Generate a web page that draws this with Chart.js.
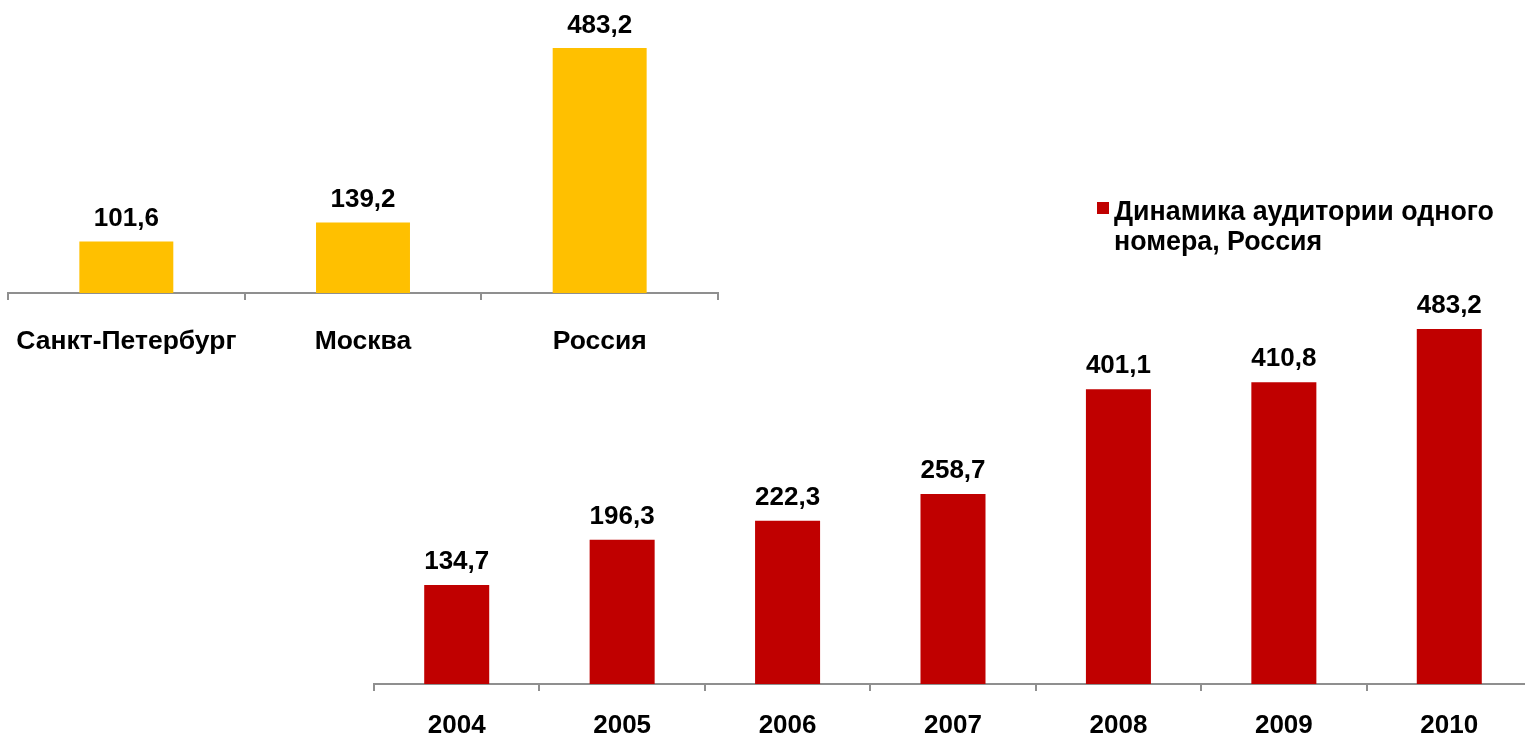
<!DOCTYPE html>
<html>
<head>
<meta charset="utf-8">
<script src="https://cdn.jsdelivr.net/npm/chart.js@4.4.1/dist/chart.umd.min.js"></script>
<style>
  html, body { margin: 0; padding: 0; background: #ffffff; overflow: hidden; width: 1525px; height: 738px; }
  #wrapTop { position: absolute; left: 0; top: 0; width: 740px; height: 380px; }
  #wrapBottom { position: absolute; left: 360px; top: 0; width: 1200px; height: 738px; }
</style>
</head>
<body>
<div id="wrapTop"><canvas id="cTop"></canvas></div>
<div id="wrapBottom"><canvas id="cBottom"></canvas></div>
<script>
// ---- data ----
const regionCategories = ['Санкт-Петербург', 'Москва', 'Россия'];
const regionValues = [101.6, 139.2, 483.2];
const years = ['2004', '2005', '2006', '2007', '2008', '2009', '2010'];
const audienceValues = [134.7, 196.3, 222.3, 258.7, 401.1, 410.8, 483.2];
const legendLines = ['Динамика аудитории одного', 'номера, Россия'];

const FONT = '"Liberation Sans", Arial, sans-serif';
const AXIS_COLOR = '#8f8f8f';
const YELLOW = '#FFC000';
const RED = '#C00000';

const valueLabels = {
  id: 'valueLabels',
  afterDatasetsDraw(chart, args, opts) {
    const ctx = chart.ctx;
    ctx.save();
    ctx.font = 'bold ' + opts.size + 'px ' + FONT;
    ctx.fillStyle = '#000';
    ctx.textAlign = 'center';
    ctx.textBaseline = 'alphabetic';
    chart.getDatasetMeta(0).data.forEach((bar, i) => {
      const v = chart.data.datasets[0].data[i];
      ctx.fillText(v.toFixed(1).replace('.', ','), bar.x, bar.y - opts.gap);
    });
    ctx.restore();
  }
};

const customLegend = {
  id: 'customLegend',
  afterDraw(chart, args, opts) {
    if (!opts.show) return;
    const ctx = chart.ctx;
    ctx.save();
    ctx.fillStyle = RED;
    ctx.fillRect(opts.x, opts.y, 12, 12);
    ctx.fillStyle = '#000';
    ctx.font = 'bold ' + opts.size + 'px ' + FONT;
    ctx.textAlign = 'left';
    ctx.textBaseline = 'alphabetic';
    opts.lines.forEach((t, i) => ctx.fillText(t, opts.x + 17, opts.baseY + i * opts.lh));
    ctx.restore();
  }
};

function makeChart(id, labels, values, color, cfg) {
  return new Chart(document.getElementById(id), {
    type: 'bar',
    data: { labels: labels, datasets: [{ data: values, backgroundColor: color, borderWidth: 0,
      barPercentage: cfg.barPct, categoryPercentage: 1.0 }] },
    options: {
      responsive: true, maintainAspectRatio: false, animation: false,
      layout: { padding: { left: cfg.padLeft, right: cfg.padRight, top: 0, bottom: 0 } },
      plugins: {
        legend: { display: false }, tooltip: { enabled: false },
        valueLabels: { size: cfg.valSize, gap: cfg.gap },
        customLegend: cfg.legend || { show: false }
      },
      scales: {
        y: { display: false, min: 0, max: cfg.yMax },
        x: {
          afterFit: (axis) => {
            axis.height = cfg.axisH;
            axis.paddingLeft = 0; axis.paddingRight = 0;
            axis.paddingTop = 0; axis.paddingBottom = 0;
          },
          border: { display: true, color: AXIS_COLOR, width: 2 },
          grid: { offset: true, drawOnChartArea: false, drawTicks: true, tickLength: 7, color: AXIS_COLOR, lineWidth: 2 },
          ticks: { color: '#000', padding: cfg.tickPad, maxRotation: 0, autoSkip: false,
            font: { family: FONT, size: cfg.catSize, weight: 'bold' } }
        }
      }
    },
    plugins: [valueLabels, customLegend]
  });
}

// Top chart: chart area x 8..718, bottom at y=293
makeChart('cTop', regionCategories, regionValues, YELLOW, {
  barPct: 0.397, padLeft: 8, padRight: 22, yMax: 578, axisH: 87, tickPad: 26,
  valSize: 26, catSize: 26.5, gap: 15
});

// Bottom chart: chart area global x 374..1532, bottom at y=684
makeChart('cBottom', years, audienceValues, RED, {
  barPct: 0.393, padLeft: 14, padRight: 28, yMax: 931, axisH: 54, tickPad: 19,
  valSize: 26, catSize: 26, gap: 16,
  legend: { show: true, x: 1097 - 360, y: 202, baseY: 220, size: 26.8, lh: 30, lines: legendLines }
});
</script>
</body>
</html>
